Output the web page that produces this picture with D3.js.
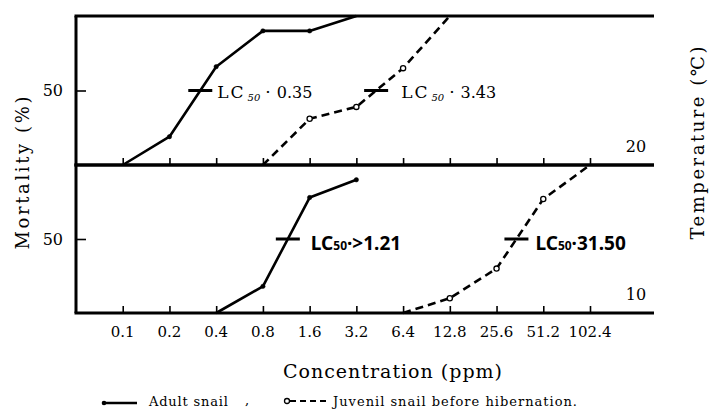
<!DOCTYPE html>
<html><head><meta charset="utf-8">
<script src="https://cdn.jsdelivr.net/npm/d3@7"></script>
<style>body{margin:0;background:#fff}</style>
</head><body>
<svg id="c" width="710" height="410"></svg>
<script>
// ---------- data ----------
const tickValues = [0.1,0.2,0.4,0.8,1.6,3.2,6.4,12.8,25.6,51.2,102.4];
const tickLabels = ["0.1","0.2","0.4","0.8","1.6","3.2","6.4","12.8","25.6","51.2","102.4"];
const temperatures = ["20","10"];
const adult20Conc = [0.1,0.2,0.4,0.8,1.6,3.2];
const adult20Mort = [0,19,66,90,90,100];
const juv20Conc = [0.8,1.6,3.2,6.4,12.8];
const juv20Mort = [0,31,39,65,100];
const adult10Conc = [0.4,0.8,1.6,3.2];
const adult10Mort = [0,18,78,90];
const juv10Conc = [6.4,12.8,25.6,51.2,102.4];
const juv10Mort = [0,10,30,77,100];
const lc50Text20 = ["0.35","3.43"];
const lc50Text10 = [">1.21","31.50"];
const legendLabels = ["Adult snail","Juvenil snail before hibernation."];

// ---------- layout ----------
const svg = d3.select("#c");
const serif = "'DejaVu Serif','Liberation Serif',serif";
const sans = "'Noto Sans','DejaVu Sans',sans-serif";
const xLeft = 76, xRight = 654;
const x = d3.scaleLog().base(2).domain([0.05, 102.4]).range([76, 590]);
const panels = [
  {temp: temperatures[0], y: d3.scaleLinear().domain([0,100]).range([165,16]),
   series: [{c: adult20Conc, m: adult20Mort, dash: null, open: false},
            {c: juv20Conc, m: juv20Mort, dash: "8,5", open: true}],
   lc: lc50Text20, style: "serif", gaps: [5, 13]},
  {temp: temperatures[1], y: d3.scaleLinear().domain([0,100]).range([313,165]),
   series: [{c: adult10Conc, m: adult10Mort, dash: null, open: false},
            {c: juv10Conc, m: juv10Mort, dash: "8,5", open: true}],
   lc: lc50Text10, style: "sans", gaps: [11, 7]}
];

function lc50(c, m) {
  for (let i = 1; i < m.length; i++) {
    if (m[i-1] < 50 && m[i] >= 50) {
      const t = (50 - m[i-1]) / (m[i] - m[i-1]);
      return Math.pow(2, Math.log2(c[i-1]) + t * (Math.log2(c[i]) - Math.log2(c[i-1])));
    }
  }
  return null;
}

// left axis
svg.append("line").attr("x1", xLeft).attr("x2", xLeft)
  .attr("y1", panels[0].y(100)).attr("y2", panels[1].y(0))
  .attr("stroke", "#000").attr("stroke-width", 3);

panels.forEach((p, pi) => {
  const g = svg.append("g");
  [0, 100].forEach(v => {
    g.append("line").attr("x1", xLeft - 1.5).attr("x2", xRight)
      .attr("y1", p.y(v)).attr("y2", p.y(v))
      .attr("stroke", "#000").attr("stroke-width", 3);
  });
  const xAxis = d3.axisTop(x).tickValues(tickValues).tickSize(7).tickFormat("");
  const ax = g.append("g").attr("transform", `translate(0,${p.y(0)})`).call(xAxis);
  ax.select(".domain").remove();
  ax.selectAll(".tick line").attr("stroke", "#000").attr("stroke-width", 1.6);
  const yAxis = d3.axisRight(p.y).tickValues([50]).tickSize(10).tickFormat("");
  const ay = g.append("g").attr("transform", `translate(${xLeft},0)`).call(yAxis);
  ay.select(".domain").remove();
  ay.selectAll(".tick line").attr("stroke", "#000").attr("stroke-width", 1.6);
  g.append("text").attr("x", 63).attr("y", p.y(50)).attr("dy", "0.36em")
    .attr("text-anchor", "end").attr("font-family", serif).attr("font-size", 16)
    .text("50");
  g.append("text").attr("x", 636).attr("y", p.y(0) - 13).attr("text-anchor", "middle")
    .attr("font-family", serif).attr("font-size", 16).text(p.temp);

  p.series.forEach((s, si) => {
    const pts = s.c.map((c, i) => [c, s.m[i]]);
    const line = d3.line().x(d => x(d[0])).y(d => p.y(d[1]));
    g.append("path").attr("d", line(pts)).attr("fill", "none")
      .attr("stroke", "#000").attr("stroke-width", 2.6)
      .attr("stroke-dasharray", s.dash).attr("stroke-linejoin", "round");
    g.selectAll(null).data(pts.filter(d => d[1] > 0 && d[1] < 100)).join("circle")
      .attr("cx", d => x(d[0])).attr("cy", d => p.y(d[1]))
      .attr("r", s.open ? 2.6 : 2.2)
      .attr("fill", s.open ? "#fff" : "#000").attr("stroke", "#000")
      .attr("stroke-width", s.open ? 1.3 : 0.5);
    const c50 = lc50(s.c, s.m);
    const cx = x(c50), cy = p.y(50);
    g.append("line").attr("x1", cx - 12).attr("x2", cx + 12).attr("y1", cy).attr("y2", cy)
      .attr("stroke", "#000").attr("stroke-width", 3);
    const tx = cx + 12 + p.gaps[si];
    if (p.style === "serif") {
      const t = g.append("text").attr("x", tx).attr("y", cy + 7.5)
        .attr("font-family", serif).attr("font-size", 17);
      t.append("tspan").attr("letter-spacing", 2).text("LC");
      t.append("tspan").attr("dx", 2).attr("dy", 3).attr("font-size", 10)
        .attr("font-style", "italic").text("50");
      t.append("tspan").attr("dx", 5).attr("dy", -3).text("·");
      t.append("tspan").attr("dx", 6).attr("font-size", 16).text(p.lc[si]);
    } else {
      const t = g.append("text").attr("x", tx).attr("y", cy + 11)
        .attr("font-family", sans).attr("font-weight", "bold").attr("font-size", 19);
      t.append("tspan").text("LC");
      t.append("tspan").attr("font-size", 12).text("50");
      t.append("tspan").text("·" + p.lc[si]);
    }
  });
});

// tick labels
svg.append("g").selectAll("text").data(tickValues).join("text")
  .attr("x", d => x(d)).attr("y", 337).attr("text-anchor", "middle")
  .attr("font-family", serif).attr("font-size", 15)
  .text((d, i) => tickLabels[i]);

// axis titles
svg.append("text").attr("x", 283).attr("y", 378).attr("font-family", serif)
  .attr("font-size", 19).attr("textLength", 219).attr("lengthAdjust", "spacing")
  .text("Concentration (ppm)");
svg.append("text").attr("transform", "translate(23,173) rotate(-90)")
  .attr("text-anchor", "middle").attr("dy", "0.35em").attr("font-family", serif)
  .attr("font-size", 18).attr("textLength", 153).attr("lengthAdjust", "spacing")
  .text("Mortality (%)");
svg.append("text").attr("transform", "translate(698,143) rotate(-90)")
  .attr("text-anchor", "middle").attr("dy", "0.35em").attr("font-family", serif)
  .attr("font-size", 18).attr("textLength", 193).attr("lengthAdjust", "spacing")
  .text("Temperature (℃)");

// legend
const lg = svg.append("g");
lg.append("line").attr("x1", 103).attr("x2", 137).attr("y1", 403).attr("y2", 403)
  .attr("stroke", "#000").attr("stroke-width", 2.6);
lg.append("circle").attr("cx", 104).attr("cy", 403).attr("r", 2.3).attr("fill", "#000");
lg.append("text").attr("x", 149).attr("y", 406).attr("font-family", serif)
  .attr("font-size", 13).attr("textLength", 79).attr("lengthAdjust", "spacing")
  .text(legendLabels[0]);
lg.append("text").attr("x", 245).attr("y", 404).attr("font-family", serif)
  .attr("font-size", 13).text(",");
lg.append("line").attr("x1", 290).attr("x2", 327).attr("y1", 401).attr("y2", 401)
  .attr("stroke", "#000").attr("stroke-width", 2.2).attr("stroke-dasharray", "6,4");
lg.append("circle").attr("cx", 287).attr("cy", 401).attr("r", 2.5).attr("fill", "#fff")
  .attr("stroke", "#000").attr("stroke-width", 1.3);
lg.append("text").attr("x", 333).attr("y", 406).attr("font-family", serif)
  .attr("font-size", 13).attr("textLength", 244).attr("lengthAdjust", "spacing")
  .text(legendLabels[1]);
</script>
</body></html>
